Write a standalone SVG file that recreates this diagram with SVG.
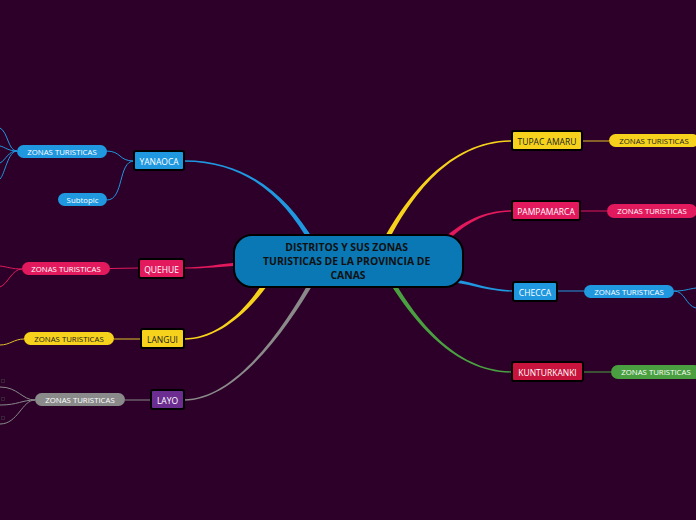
<svg xmlns="http://www.w3.org/2000/svg" width="696" height="520" viewBox="0 0 696 520">
<style>
.node rect{stroke:#000;stroke-width:2}
.lbl{font-family:"Open Sans","Liberation Sans",sans-serif;font-size:8.5px;text-anchor:middle;dominant-baseline:central}
.pl{font-family:"Open Sans","Liberation Sans",sans-serif;font-size:7.8px;text-anchor:middle;dominant-baseline:central}
.w{fill:#fff}
.d{fill:#222}
.thin{fill:none;stroke-width:1}
.blue{fill:#1f98e0}
.pink{fill:#e2195d}
.yel{fill:#f6d21c}
.gray{fill:#8a8a8a}
.green{fill:#4aa040}
</style>
<rect width="696" height="520" fill="#2c0029"/>
<g id="connectors">
<path class="blue" d="M184,160.3 C250,160.3 288.7,199 314.2,240.7 L309.9,243.3 C285.3,201 250,161.7 184,161.7 Z"/>
<path class="pink" d="M184,267.4 C205,267.2 220,263.6 240,262.4 L240,265.8 C220,266.6 205,268.8 184,268.6 Z"/>
<path class="yel" d="M184,338.3 C215,338.2 243.5,314 265.9,278.6 L270.1,281.4 C246.5,316 215,339.8 184,339.7 Z"/>
<path class="gray" d="M184,399.3 C235,399.2 283.5,329 312,276.9 L316,279.1 C286.5,331 235,400.8 184,400.7 Z"/>
<path class="yel" d="M512,140.3 C450,140.2 408.3,194.1 382.8,240.8 L387.2,243.2 C411.7,195.9 450,141.8 512,141.7 Z"/>
<path class="pink" d="M512,210.3 C485,210.2 464,221 443.5,238.3 L446.5,241.7 C466,223 485,211.8 512,211.7 Z"/>
<path class="blue" d="M513,290.3 C490,290.2 475,282.6 455,279.6 L455,282.6 C475,285.4 490,291.8 513,291.7 Z"/>
<path class="green" d="M512,371.3 C455,371.2 416.5,319 394,280.8 L390,283.2 C413.5,321 455,372.8 512,372.7 Z"/>
<g class="thin" stroke="#1f98e0">
<path d="M134,161 C118,161 122,151 106,151"/>
<path d="M134,161 C118,161 124,200 107,200"/>
<path d="M17,151 C8,151 8,132 0,128"/>
<path d="M17,151 C8,151 5,147 0,146"/>
<path d="M17,151 C8,151 6,160 0,163"/>
<path d="M17,151 C8,151 5,174 0,179"/>
<path d="M557,291 L584,291"/>
<path d="M674,291 C685,291 688,289 696,288"/>
<path d="M674,291 C685,291 686,306 696,308"/>
</g>
<g class="thin" stroke="#e2195d">
<path d="M139,268 L110,268.5"/>
<path d="M22,269 C12,269 8,267 0,266"/>
<path d="M22,269 C12,269 8,284 0,287"/>
<path d="M580,211 L607,211"/>
</g>
<g class="thin" stroke="#e0bf2a">
<path d="M141,339 L114,339"/>
<path d="M24,339 C14,339 10,345 0,345"/>
<path d="M582,141 L609,141"/>
</g>
<g class="thin" stroke="#8a8a8a">
<path d="M151,400 L125,400"/>
<path d="M35,400 C22,400 18,387 0,387"/>
<path d="M35,400 C22,400 18,405 0,405"/>
<path d="M35,400 C22,400 18,424 0,424"/>
</g>
<g class="thin" stroke="#4aa040">
<path d="M583,372 L611,372"/>
</g>
</g>
<g fill="none" stroke="#3e2a3c" stroke-width="0.8">
<rect x="1.5" y="379.5" width="3" height="3"/>
<rect x="1.5" y="397.5" width="3" height="3"/>
<rect x="1.5" y="416.5" width="3" height="3"/>
</g>
<g id="center" class="node">
<rect x="234" y="235" width="229" height="52" rx="18" fill="#0a78b5"/>
<text font-family="'Open Sans','Liberation Sans',sans-serif" font-size="10.4" font-weight="bold" fill="#111" text-anchor="middle">
<tspan x="348" y="250.5">DISTRITOS Y SUS ZONAS</tspan>
<tspan x="348" y="264.5">TURISTICAS DE LA PROVINCIA DE</tspan>
<tspan x="348" y="278.5">CANAS</tspan>
</text>
</g>
<g id="yanaoca" class="node"><rect x="134" y="151" width="50" height="19" rx="2" fill="#1f98e0"/><text class="lbl w" x="159" y="161">YANAOCA</text></g>
<g id="quehue" class="node"><rect x="139" y="259" width="45" height="19" rx="2" fill="#e2195d"/><text class="lbl w" x="161.5" y="269">QUEHUE</text></g>
<g id="langui" class="node"><rect x="141" y="329" width="43" height="19" rx="2" fill="#f6d21c"/><text class="lbl d" x="162.5" y="339">LANGUI</text></g>
<g id="layo" class="node"><rect x="151" y="390" width="33" height="19" rx="2" fill="#6b2d8f"/><text class="lbl w" x="167.5" y="400">LAYO</text></g>
<g id="tupac" class="node"><rect x="512" y="131" width="70" height="19" rx="2" fill="#f6d21c"/><text class="lbl d" x="547" y="141">TUPAC AMARU</text></g>
<g id="pampamarca" class="node"><rect x="512" y="201" width="68" height="19" rx="2" fill="#e2195d"/><text class="lbl w" x="546" y="211">PAMPAMARCA</text></g>
<g id="checca" class="node"><rect x="513" y="282" width="44" height="19" rx="2" fill="#1f98e0"/><text class="lbl w" x="535" y="292">CHECCA</text></g>
<g id="kunturkanki" class="node"><rect x="512" y="362" width="71" height="19" rx="2" fill="#c8143c"/><text class="lbl w" x="547.5" y="372">KUNTURKANKI</text></g>
<g id="zt-yanaoca"><rect x="17" y="145" width="90" height="13" rx="6.5" fill="#1f98e0"/><text class="pl w" x="62" y="151.5">ZONAS TURISTICAS</text></g>
<g id="subtopic"><rect x="58" y="193" width="49" height="13" rx="6.5" fill="#1f98e0"/><text class="pl w" x="82.5" y="199.5">Subtopic</text></g>
<g id="zt-quehue"><rect x="22" y="262" width="88" height="13" rx="6.5" fill="#e2195d"/><text class="pl w" x="66" y="268.5">ZONAS TURISTICAS</text></g>
<g id="zt-langui"><rect x="24" y="332" width="90" height="13" rx="6.5" fill="#f6d21c"/><text class="pl d" x="69" y="338.5">ZONAS TURISTICAS</text></g>
<g id="zt-layo"><rect x="35" y="393" width="90" height="13" rx="6.5" fill="#8a8a8a"/><text class="pl w" x="80" y="399.5">ZONAS TURISTICAS</text></g>
<g id="zt-tupac"><rect x="609" y="134" width="90" height="13" rx="6.5" fill="#f6d21c"/><text class="pl d" x="654" y="140.5">ZONAS TURISTICAS</text></g>
<g id="zt-pampamarca"><rect x="607" y="204" width="90" height="14" rx="7" fill="#e2195d"/><text class="pl w" x="652" y="211">ZONAS TURISTICAS</text></g>
<g id="zt-checca"><rect x="584" y="285" width="90" height="13" rx="6.5" fill="#1f98e0"/><text class="pl w" x="629" y="291.5">ZONAS TURISTICAS</text></g>
<g id="zt-kunturkanki"><rect x="611" y="365" width="90" height="14" rx="7" fill="#4aa040"/><text class="pl w" x="656" y="372">ZONAS TURISTICAS</text></g>
</svg>
